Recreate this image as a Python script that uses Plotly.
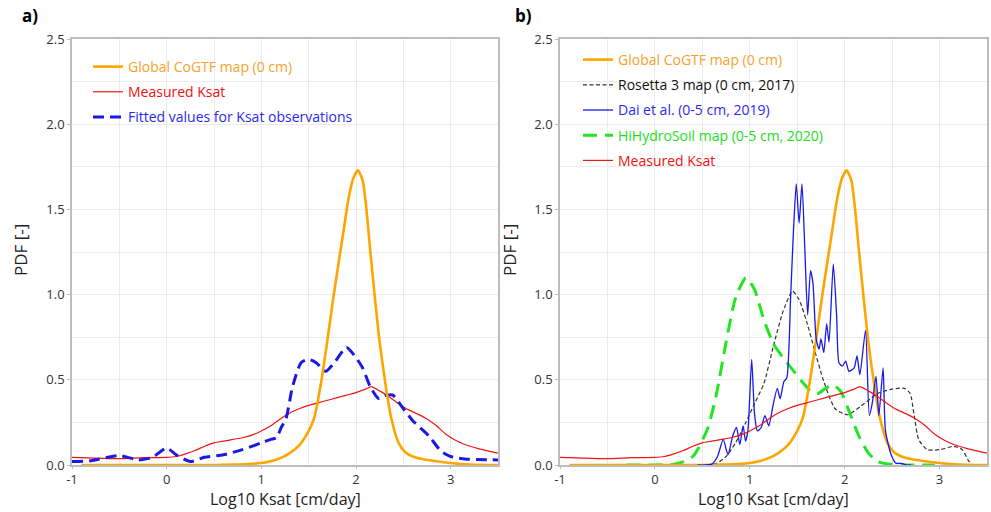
import plotly.graph_objects as go

# ---------------- data ----------------
cogtf_x = [-0.9, -0.5, 0.0, 0.5, 0.7, 0.9, 1.0, 1.1, 1.2, 1.3, 1.4, 1.5, 1.56, 1.63, 1.7, 1.76, 1.82, 1.87, 1.92, 1.97, 2.02, 2.07, 2.11, 2.15, 2.2, 2.25, 2.31, 2.37, 2.45, 2.52, 2.6, 2.7, 2.85, 3.0, 3.2, 3.5]
cogtf_y = [0.0, 0.0, 0.0, 0.0, 0.002, 0.007, 0.012, 0.022, 0.04, 0.07, 0.115, 0.2, 0.28, 0.48, 0.74, 0.98, 1.2, 1.38, 1.56, 1.68, 1.73, 1.67, 1.5, 1.26, 0.98, 0.72, 0.48, 0.28, 0.13, 0.075, 0.05, 0.035, 0.022, 0.012, 0.003, 0.0]

meas_x = [-1.0, -0.75, -0.5, -0.25, 0.0, 0.1, 0.2, 0.3, 0.4, 0.5, 0.6, 0.7, 0.8, 0.9, 1.0, 1.1, 1.2, 1.3, 1.4, 1.5, 1.6, 1.7, 1.8, 1.9, 2.0, 2.1, 2.16, 2.25, 2.35, 2.45, 2.55, 2.65, 2.75, 2.85, 2.95, 3.05, 3.15, 3.3, 3.5]
meas_y = [0.045, 0.04, 0.037, 0.043, 0.045, 0.05, 0.065, 0.085, 0.11, 0.13, 0.14, 0.15, 0.16, 0.175, 0.2, 0.23, 0.27, 0.305, 0.33, 0.35, 0.365, 0.38, 0.395, 0.41, 0.425, 0.445, 0.46, 0.435, 0.4, 0.36, 0.325, 0.3, 0.27, 0.23, 0.18, 0.145, 0.12, 0.095, 0.07]

fit_x = [-1.0, -0.8, -0.5, -0.3, -0.15, 0.0, 0.1, 0.25, 0.4, 0.6, 0.8, 1.0, 1.1, 1.16, 1.21, 1.26, 1.33, 1.42, 1.5, 1.58, 1.68, 1.77, 1.9, 2.0, 2.07, 2.15, 2.24, 2.32, 2.39, 2.5, 2.6, 2.77, 2.9, 3.0, 3.15, 3.5]
fit_y = [0.02, 0.025, 0.055, 0.03, 0.045, 0.1, 0.06, 0.02, 0.045, 0.06, 0.09, 0.13, 0.15, 0.16, 0.22, 0.27, 0.46, 0.6, 0.62, 0.6, 0.55, 0.6, 0.69, 0.63, 0.57, 0.46, 0.39, 0.41, 0.41, 0.33, 0.26, 0.17, 0.08, 0.05, 0.035, 0.03]

ros_x = [0.55, 0.65, 0.75, 0.85, 0.95, 1.05, 1.15, 1.25, 1.35, 1.45, 1.52, 1.6, 1.68, 1.78, 1.9, 2.03, 2.17, 2.35, 2.5, 2.63, 2.69, 2.73, 2.78, 2.87, 3.0, 3.15, 3.24, 3.3, 3.34]
ros_y = [0.0, 0.01, 0.05, 0.13, 0.24, 0.36, 0.48, 0.7, 0.9, 1.02, 0.97, 0.84, 0.68, 0.49, 0.33, 0.295, 0.345, 0.42, 0.445, 0.45, 0.42, 0.3, 0.15, 0.09, 0.09, 0.11, 0.09, 0.03, 0.0]

dai_x = [0.45, 0.6, 0.66, 0.72, 0.77, 0.82, 0.86, 0.895, 0.93, 0.955, 0.98, 1.02, 1.05, 1.08, 1.12, 1.16, 1.2, 1.245, 1.29, 1.32, 1.36, 1.39, 1.43, 1.46, 1.49, 1.52, 1.55, 1.58, 1.61, 1.64, 1.665, 1.70, 1.73, 1.75, 1.78, 1.81, 1.835, 1.88, 1.915, 1.94, 1.975, 2.01, 2.045, 2.1, 2.13, 2.16, 2.22, 2.26, 2.29, 2.33, 2.36, 2.405, 2.43, 2.49, 2.54, 2.6, 2.65, 2.7]
dai_y = [0.0, 0.005, 0.05, 0.15, 0.06, 0.17, 0.22, 0.12, 0.23, 0.14, 0.2, 0.62, 0.3, 0.2, 0.22, 0.29, 0.23, 0.35, 0.45, 0.39, 0.49, 0.51, 0.98, 1.37, 1.65, 1.42, 1.65, 1.27, 0.88, 1.14, 1.07, 0.74, 0.68, 0.74, 0.66, 0.83, 0.72, 1.18, 0.88, 0.60, 0.58, 0.61, 0.55, 0.57, 0.64, 0.53, 0.79, 0.29, 0.36, 0.52, 0.29, 0.57, 0.2, 0.06, 0.01, 0.01, 0.0, 0.0]

hihy_x = [-0.3, 0.0, 0.2, 0.3, 0.4, 0.46, 0.56, 0.65, 0.75, 0.85, 0.96, 1.05, 1.15, 1.25, 1.35, 1.45, 1.55, 1.65, 1.72, 1.8, 1.88, 1.96, 2.05, 2.15, 2.25, 2.35, 2.5, 2.7, 2.95]
hihy_y = [0.0, 0.0, 0.005, 0.02, 0.05, 0.1, 0.22, 0.42, 0.72, 0.98, 1.10, 1.03, 0.85, 0.71, 0.63, 0.56, 0.49, 0.43, 0.42, 0.45, 0.47, 0.43, 0.31, 0.17, 0.07, 0.02, 0.003, 0.0, 0.0]

x_ticks = [-1, 0, 1, 2, 3]
y_ticks = [0.0, 0.5, 1.0, 1.5, 2.0, 2.5]

# ---------------- styling ----------------
W, H = 991, 512
FONT = "Open Sans"
C_OR, C_RED, C_BLUE, C_BLK, C_GRN = "#FFA500", "#F01414", "#1A1AE6", "#333333", "#22E622"
T_OR, T_RED, T_BLUE, T_BLK, T_GRN = "#F5A32A", "#EE1111", "#2A2AEE", "#111111", "#22DD22"

def lab(text, color):
    return f"<span style='color:{color}'>{text}</span>"

fig = go.Figure()

def add(x, y, name, color, width, dash, tcolor, xa, ya, leg, rank):
    fig.add_trace(go.Scatter(
        x=x, y=y, mode="lines", name=lab(name, tcolor),
        line=dict(color=color, width=width, dash=dash, shape="spline", smoothing=0.6),
        xaxis=xa, yaxis=ya, legend=leg, legendgroup=f"g{leg}{rank}", legendrank=rank,
        hoverinfo="skip"))

# left panel
add(meas_x, meas_y, "Measured Ksat", C_RED, 1.2, "solid", T_RED, "x", "y", "legend", 2)
add(fit_x, fit_y, "Fitted values for Ksat observations", C_BLUE, 3, "11px,6px", T_BLUE, "x", "y", "legend", 3)
add(cogtf_x, cogtf_y, "Global CoGTF map (0 cm)", C_OR, 2.6, "solid", T_OR, "x", "y", "legend", 1)

# right panel
add(ros_x, ros_y, "Rosetta 3 map (0 cm, 2017)", C_BLK, 1.2, "4px,2.5px", T_BLK, "x2", "y2", "legend2", 2)
add(hihy_x, hihy_y, "HiHydroSoil map (0-5 cm, 2020)", C_GRN, 3, "14px,8px", T_GRN, "x2", "y2", "legend2", 4)
add(cogtf_x, cogtf_y, "Global CoGTF map (0 cm)", C_OR, 2.6, "solid", T_OR, "x2", "y2", "legend2", 1)
add(dai_x, dai_y, "Dai et al. (0-5 cm, 2019)", C_BLUE, 1.3, "solid", T_BLUE, "x2", "y2", "legend2", 3)
add(meas_x, meas_y, "Measured Ksat", C_RED, 1.2, "solid", T_RED, "x2", "y2", "legend2", 5)

ydom = [1 - 465 / H, 1 - 39 / H]
xdomL = [72 / W, 498 / W]
xdomR = [560 / W, 987 / W]

grid = "#EBEBEB"
axline = "#BDBDBD"
tickfont = dict(family=FONT, size=13, color="#333333")

def xaxis(dom, anchor):
    return dict(domain=dom, anchor=anchor, range=[-1, 3.5], tickvals=x_ticks,
                ticktext=[str(v) for v in x_ticks], showgrid=True, gridcolor=grid,
                minor=dict(dtick=0.5, tick0=-1, showgrid=True, gridcolor=grid),
                zeroline=False, showline=True, mirror=True, linecolor=axline, linewidth=1.5,
                ticks="outside", ticklen=2, tickcolor=axline, tickfont=tickfont,
                automargin=False)

def yaxis(anchor):
    return dict(domain=ydom, anchor=anchor, range=[0, 2.5], tickvals=y_ticks,
                ticktext=[f"{v:.1f}" for v in y_ticks], showgrid=True, gridcolor=grid,
                minor=dict(dtick=0.25, tick0=0, showgrid=True, gridcolor=grid),
                zeroline=False, showline=True, mirror=True, linecolor=axline, linewidth=1.5,
                ticks="outside", ticklen=3, tickcolor=axline, tickfont=tickfont,
                automargin=False)

legfont = dict(family=FONT, size=14)
fig.update_layout(
    width=W, height=H, margin=dict(l=0, r=0, t=0, b=0, autoexpand=False),
    paper_bgcolor="white", plot_bgcolor="white",
    xaxis=xaxis(xdomL, "y"), yaxis=yaxis("x"),
    xaxis2=xaxis(xdomR, "y2"), yaxis2=yaxis("x2"),
    legend=dict(x=88 / W, y=1 - 51 / H, xanchor="left", yanchor="top",
                bgcolor="rgba(0,0,0,0)", font=legfont, traceorder="grouped",
                tracegroupgap=4, itemwidth=30),
    legend2=dict(x=578 / W, y=1 - 44 / H, xanchor="left", yanchor="top",
                 bgcolor="rgba(0,0,0,0)", font=legfont, traceorder="grouped",
                 tracegroupgap=4, itemwidth=30),
    showlegend=True,
)

ann = [
    dict(text="<b>a)</b>", x=20 / W, y=1 - 15 / H),
    dict(text="<b>b)</b>", x=513 / W, y=1 - 15 / H),
]
for a in ann:
    fig.add_annotation(text=a["text"], x=a["x"], y=a["y"], xref="paper", yref="paper",
                       xanchor="left", yanchor="middle", showarrow=False,
                       font=dict(family=FONT, size=17, color="black"))

for cx in [(72 + 498) / 2, (560 + 987) / 2]:
    fig.add_annotation(text="Log10 Ksat [cm/day]", x=cx / W, y=1 - 499 / H, xref="paper", yref="paper",
                       xanchor="center", yanchor="middle", showarrow=False,
                       font=dict(family=FONT, size=16, color="#222222"))
for cx in [20, 509]:
    fig.add_annotation(text="PDF [-]", x=cx / W, y=1 - 250 / H, xref="paper", yref="paper",
                       xanchor="center", yanchor="middle", showarrow=False, textangle=-90,
                       font=dict(family=FONT, size=17, color="#222222"))

fig.write_html("out.html")
